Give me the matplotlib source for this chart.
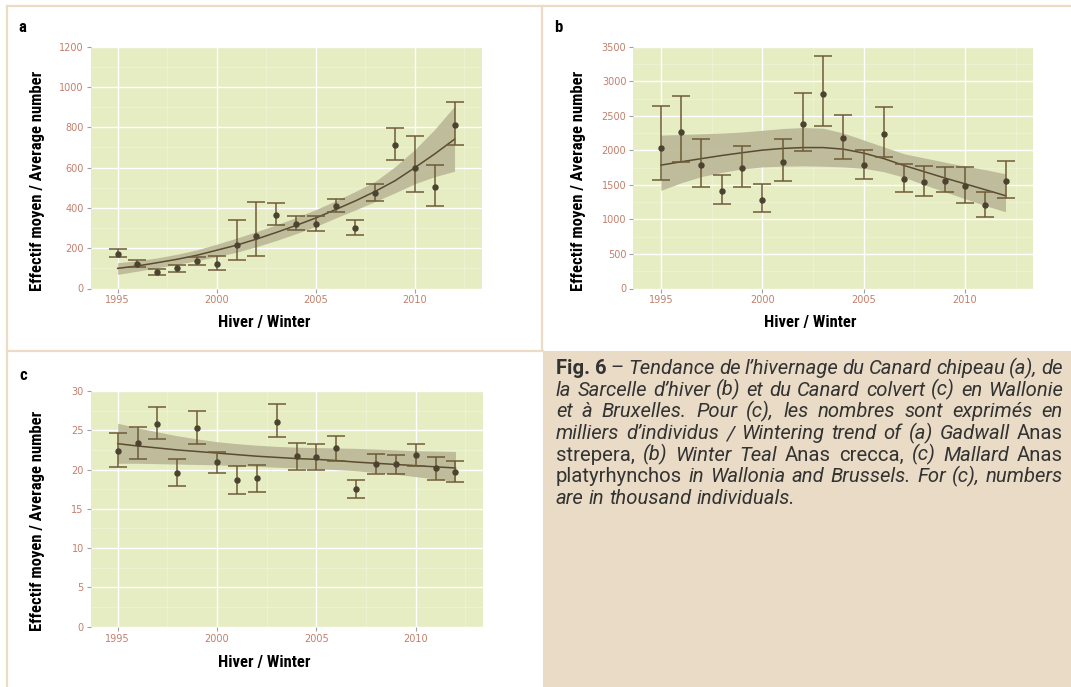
import matplotlib
matplotlib.use("Agg")
import matplotlib.pyplot as plt
from matplotlib import font_manager
from matplotlib.patches import Rectangle
from matplotlib.lines import Line2D

W, H = 1071, 687

years = list(range(1995, 2013))

# (a) Gadwall
a_mean = [173, 122, 81, 101, 134, 122, 218, 262, 366, 322, 322, 409, 302, 475, 713, 599, 502, 810]
a_low = [155, 106, 68, 81, 116, 94, 142, 160, 315, 292, 284, 378, 266, 432, 639, 477, 409, 710]
a_high = [196, 140, 99, 119, 155, 160, 338, 429, 426, 360, 360, 444, 342, 518, 797, 758, 614, 926]
a_fit = [100, 112, 128, 145, 165, 190, 215, 245, 278, 313, 350, 392, 435, 482, 535, 600, 668, 741]
a_fit_low = [70, 86, 103, 120, 138, 158, 180, 207, 238, 272, 308, 350, 390, 432, 475, 520, 555, 582]
a_fit_high = [128, 138, 152, 170, 192, 220, 250, 282, 316, 352, 392, 435, 482, 532, 605, 690, 790, 905]

# (b) Winter Teal
b_mean = [2038, 2264, 1784, 1409, 1745, 1288, 1837, 2380, 2812, 2173, 1784, 2236, 1591, 1548, 1562, 1481, 1202, 1558]
b_low = [1572, 1827, 1462, 1216, 1471, 1106, 1553, 1986, 2356, 1880, 1587, 1904, 1404, 1346, 1394, 1240, 1034, 1303]
b_high = [2635, 2784, 2163, 1639, 2063, 1510, 2163, 2837, 3365, 2505, 2000, 2625, 1803, 1774, 1755, 1755, 1399, 1851]
b_fit = [1786, 1834, 1880, 1925, 1965, 2003, 2027, 2040, 2040, 2017, 1960, 1880, 1780, 1690, 1600, 1515, 1430, 1343]
b_fit_low = [1420, 1530, 1620, 1680, 1730, 1760, 1770, 1775, 1770, 1760, 1740, 1690, 1610, 1500, 1400, 1300, 1200, 1110]
b_fit_high = [2220, 2230, 2240, 2250, 2265, 2290, 2315, 2330, 2320, 2250, 2150, 2050, 1950, 1890, 1830, 1770, 1720, 1660]

# (c) Mallard (thousands)
c_mean = [22.4, 23.4, 25.8, 19.6, 25.3, 20.9, 18.7, 18.9, 26.1, 21.7, 21.6, 22.7, 17.5, 20.7, 20.7, 21.85, 20.2, 19.7]
c_low = [20.37, 21.4, 23.85, 17.95, 23.3, 19.5, 16.9, 17.1, 24.1, 19.9, 20.0, 21.1, 16.4, 19.4, 19.4, 20.45, 18.7, 18.4]
c_high = [24.65, 25.45, 28.0, 21.34, 27.5, 22.2, 20.45, 20.6, 28.3, 23.4, 23.25, 24.3, 18.7, 22.0, 21.9, 23.25, 21.6, 21.1]
c_fit = [23.3, 23.0, 22.75, 22.5, 22.3, 22.1, 21.9, 21.7, 21.55, 21.4, 21.3, 21.15, 20.95, 20.8, 20.65, 20.5, 20.35, 20.2]
c_fit_low = [20.8, 20.8, 20.75, 20.7, 20.65, 20.6, 20.5, 20.4, 20.3, 20.2, 20.1, 20.0, 19.85, 19.6, 19.4, 19.1, 18.8, 18.5]
c_fit_high = [25.9, 25.3, 24.8, 24.3, 23.9, 23.55, 23.3, 23.1, 22.95, 22.85, 22.8, 22.75, 22.7, 22.6, 22.5, 22.4, 22.35, 22.3]

x_ticks = [1995, 2000, 2005, 2010]
ylabel = "Effectif moyen / Average number"
xlabel = "Hiver / Winter"

caption = [
    [("Fig. 6", "bold"), ("–", "normal"), ("Tendance de l’hivernage du Canard chipeau (a), de", "italic")],
    [("la Sarcelle d’hiver (b) et du Canard colvert (c) en Wallonie", "italic")],
    [("et à Bruxelles. Pour (c), les nombres sont exprimés en", "italic")],
    [("milliers d’individus / Wintering trend of  (a) Gadwall", "italic"), ("Anas", "normal")],
    [("strepera,", "normal"), ("(b) Winter Teal", "italic"), ("Anas crecca,", "normal"),
     ("(c) Mallard", "italic"), ("Anas", "normal")],
    [("platyrhynchos", "normal"), ("in Wallonia and Brussels. For (c), numbers", "italic")],
    [("are in thousand individuals.", "italic")],
]

# pick a narrow font if there is one
installed = {f.name for f in font_manager.fontManager.ttflist}
narrow = "DejaVu Sans"
for name in ["Liberation Sans Narrow", "Roboto Condensed", "Open Sans Condensed", "Noto Sans"]:
    if name in installed:
        narrow = name
        break
cap_font = "Roboto" if "Roboto" in installed else "DejaVu Sans"

bg = "#e6edc3"
tick_col = "#c27f6c"
bar_col = "#6e5b37"
pt_col = "#4b4330"
line_col = "#5a4c30"
ribbon_col = "#bcb899"
border = "#ecdcc5"

fig = plt.figure(figsize=(W / 100, H / 100), dpi=100)
fig.patch.set_facecolor("white")


def px(x0, y0, x1, y1):
    return [x0 / W, 1 - y1 / H, (x1 - x0) / W, (y1 - y0) / H]


def panel(rect, mean, low, high, fit, fit_low, fit_high, ymax, ystep):
    ax = fig.add_axes(rect)
    ax.set_facecolor(bg)
    for s in ax.spines.values():
        s.set_visible(False)
    ax.set_xlim(1993.64, 2013.37)
    ax.set_ylim(0, ymax)
    ax.set_xticks(x_ticks)
    ax.set_xticks([1997.5, 2002.5, 2007.5, 2012.5], minor=True)
    yt = list(range(0, ymax + 1, ystep))
    ax.set_yticks(yt)
    ax.set_yticks([v + ystep / 2 for v in yt[:-1]], minor=True)
    ax.grid(which="major", color="white", lw=1.0)
    ax.grid(which="minor", color="white", lw=0.5, alpha=0.35)
    ax.set_axisbelow(True)
    ax.tick_params(which="major", direction="out", length=3, width=0.8, color="#a0a0a0",
                   labelcolor=tick_col, labelsize=7, pad=2)
    ax.tick_params(which="minor", length=0)
    ax.fill_between(years, fit_low, fit_high, color=ribbon_col, alpha=0.92, lw=0, zorder=2)
    ax.plot(years, fit, color=line_col, lw=1.1, zorder=3)
    yerr = [[m - l for m, l in zip(mean, low)], [h - m for m, h in zip(mean, high)]]
    ax.errorbar(years, mean, yerr=yerr, fmt="o", ms=3.6, color=pt_col, ecolor=bar_col,
                elinewidth=1.1, capsize=6.6, capthick=1.1, zorder=4)
    return ax


panel(px(90.7, 46.7, 481.7, 288.5), a_mean, a_low, a_high, a_fit, a_fit_low, a_fit_high, 1200, 200)
panel(px(633.3, 46.7, 1033.3, 288.5), b_mean, b_low, b_high, b_fit, b_fit_low, b_fit_high, 3500, 500)
panel(px(90.7, 391, 482.7, 626.7), c_mean, c_low, c_high, c_fit, c_fit_low, c_fit_high, 30, 5)

# labels
lab = dict(family=[narrow, "DejaVu Sans"], weight="bold", fontsize=12, color="black")
for (lx, ly), (yx, yy) in [((264, 323), (38, 181)), ((810, 323), (578, 181)), ((264, 663), (38, 521))]:
    fig.text(lx / W, 1 - ly / H, xlabel, ha="center", va="center", **lab)
    fig.text(yx / W, 1 - yy / H, ylabel, ha="center", va="center", rotation=90, **lab)
for t, (x, y) in zip("abc", [(22, 28), (558, 28), (23, 375)]):
    fig.text(x / W, 1 - y / H, t, ha="center", va="center", fontsize=12, weight="bold",
             family=[narrow, "DejaVu Sans"])

# frame lines and caption box
fig.add_artist(Rectangle((543 / W, 0), (W - 543) / W, (H - 351) / H, transform=fig.transFigure,
                         facecolor="#e9dbc5", edgecolor="none"))
lkw = dict(transform=fig.transFigure, color=border, lw=1.6)
fig.add_artist(Line2D([7 / W, 1], [1 - 6 / H, 1 - 6 / H], **lkw))
fig.add_artist(Line2D([7 / W, 7 / W], [0, 1 - 6 / H], **lkw))
fig.add_artist(Line2D([541.5 / W, 541.5 / W], [1 - 351 / H, 1 - 6 / H], **lkw))
fig.add_artist(Line2D([7 / W, 543 / W], [1 - 351 / H, 1 - 351 / H], **lkw))

# justified caption
renderer = fig.canvas.get_renderer()
styles = {"bold": dict(weight="bold", style="normal"),
          "normal": dict(weight="normal", style="normal"),
          "italic": dict(weight="normal", style="italic")}
cap_fam = [cap_font, "DejaVu Sans"]

probe = fig.text(0, 0, caption[-1][0][0], fontsize=12, family=cap_fam, **styles["italic"])
size = 12 * 238 / probe.get_window_extent(renderer).width
probe.remove()

x_left, x_right = 556, 1063
base0, step = 374, 21.7
for i, line in enumerate(caption):
    words = []
    for text, st in line:
        toks = [text] if st == "bold" else text.split()
        words += [(w, st) for w in toks]
    arts = [fig.text(0, 1 - (base0 + i * step) / H, w, fontsize=size, color="#333333",
                     family=cap_fam, va="baseline", ha="left", **styles[st])
            for w, st in words]
    widths = [a.get_window_extent(renderer).width for a in arts]
    if i < len(caption) - 1 and len(arts) > 1:
        gap = (x_right - x_left - sum(widths)) / (len(arts) - 1)
    else:
        sp = fig.text(0, 0, "a a", fontsize=size, family=cap_fam, **styles["italic"])
        sp2 = fig.text(0, 0, "aa", fontsize=size, family=cap_fam, **styles["italic"])
        gap = sp.get_window_extent(renderer).width - sp2.get_window_extent(renderer).width
        sp.remove()
        sp2.remove()
    x = x_left
    for a, w in zip(arts, widths):
        a.set_x(x / W)
        x += w + gap

fig.savefig("out.png", dpi=100)
